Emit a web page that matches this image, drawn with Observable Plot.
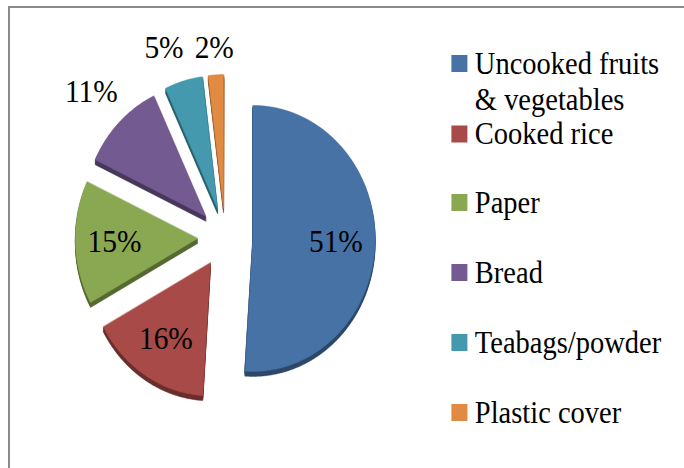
<!DOCTYPE html>
<html><head><meta charset="utf-8">
<script src="https://cdn.jsdelivr.net/npm/d3@7"></script>
<script src="https://cdn.jsdelivr.net/npm/@observablehq/plot@0.6"></script>
<style>
html,body{margin:0;padding:0;background:#fff;overflow:hidden;width:684px;height:468px;font-family:"Liberation Serif",serif;}
#frame{position:absolute;left:8px;top:6px;width:800px;height:600px;border-left:2px solid #8a8a8a;border-top:2px solid #8a8a8a;}
#chart{position:absolute;left:0;top:0;width:684px;height:468px;}
#preload{position:absolute;left:-2000px;top:-2000px;font-family:"Liberation Serif";font-size:32px;}
</style></head><body>
<div id="preload">Uncooked 51%</div>
<div id="frame"></div>
<div id="chart"></div>
<script>
// ---- data ----
const categories = ["Uncooked fruits & vegetables", "Cooked rice", "Paper", "Bread", "Teabags/powder", "Plastic cover"];
const values = [51, 16, 15, 11, 5, 2];
const legendLines = [["Uncooked fruits", "& vegetables"], ["Cooked rice"], ["Paper"], ["Bread"], ["Teabags/powder"], ["Plastic cover"]];
const colors = ["#4772a6", "#a84a47", "#8aa851", "#735a90", "#4499af", "#e08a42"];

// ---- layout (virtual units; the svg is squeezed to 92% horizontally) ----
const W = 744, H = 468, squeeze = 0.92;
const cx = 244.5, cy = 237, R = 133, explode = 30, depth = 5;
const fontSize = 32, legendFont = 31;
const serif = "Liberation Serif";

const arcs = d3.pie().sort(null).value(d => d)(values);
const slices = arcs.map((a, i) => {
  const m = (a.startAngle + a.endAngle) / 2;
  const ux = Math.sin(m), uy = -Math.cos(m);
  const ax = cx + explode * ux, ay = cy + explode * uy;
  const n = Math.max(2, Math.ceil((a.endAngle - a.startAngle) / 0.01));
  const pts = [{x: ax, y: ay}];
  for (let k = 0; k <= n; k++) {
    const t = a.startAngle + (a.endAngle - a.startAngle) * k / n;
    pts.push({x: ax + R * Math.sin(t), y: ay - R * Math.cos(t)});
  }
  return {i, name: categories[i], value: values[i], ux, uy, ax, ay, pts};
});

// data labels
const labels = slices.map(s => {
  const text = s.value + "%";
  const w = (text.length === 3 ? 1.833 : 1.333) * fontSize, h = 26;
  if (s.value >= 15) {
    return {text, x: s.ax + 0.68 * R * s.ux, y: s.ay + 0.68 * R * s.uy, w, h, inside: true};
  }
  const dist = R + 13 + Math.abs(s.ux) * w / 2 + Math.abs(s.uy) * h / 2;
  return {text, x: s.ax + dist * s.ux, y: s.ay + dist * s.uy, w, h, inside: false};
});
const outs = labels.filter(l => !l.inside).sort((a, b) => a.x - b.x);
for (let k = outs.length - 2; k >= 0; k--) {
  const a = outs[k], b = outs[k + 1], gap = 12;
  if (Math.abs(a.y - b.y) < a.h && a.x + a.w / 2 + gap > b.x - b.w / 2) {
    a.x = b.x - b.w / 2 - gap - a.w / 2;
    a.y = b.y;
  }
}

// legend layout
const legX = 491, legSw = 17.4, legTextX = 516, legTop = 73, legSecond = 143.5, legStep = 70, legLineGap = 36;
const legBase = categories.map((c, i) => i === 0 ? legTop : (i === 1 ? legSecond : 212 + legStep * (i - 2)));
const legSwatches = categories.map((c, i) => ({name: c, x1: legX, x2: legX + legSw, y1: legBase[i] - 18, y2: legBase[i] - 1}));
const legTexts = legendLines.flatMap((lines, i) => lines.map((line, j) => ({line, x: legTextX, y: legBase[i] + j * legLineGap})));

const marks = [];
slices.forEach(s => {
  const dark = d3.color(colors[s.i]).darker(1.3).formatHex();
  for (let k = depth; k >= 1; k--) {
    marks.push(Plot.line(s.pts, {x: "x", y: "y", fill: dark, stroke: dark, strokeWidth: 0.5, curve: "linear-closed", dy: k}));
  }
});
slices.forEach(s => {
  marks.push(Plot.line(s.pts, {x: "x", y: "y", fill: colors[s.i], stroke: colors[s.i], strokeWidth: 0.5, curve: "linear-closed"}));
});
marks.push(Plot.text(labels, {x: "x", y: "y", text: "text", fontFamily: serif, fontSize, fill: "#000"}));
marks.push(Plot.rect(legSwatches, {x1: "x1", x2: "x2", y1: "y1", y2: "y2", fill: "name"}));
marks.push(Plot.text(legTexts, {x: "x", y: "y", text: "line", textAnchor: "start", lineAnchor: "bottom", fontFamily: serif, fontSize: legendFont, fill: "#000"}));

const svg = Plot.plot({
  width: W, height: H, margin: 0,
  x: {domain: [0, W], range: [0, W], axis: null},
  y: {domain: [0, H], range: [0, H], axis: null},
  color: {domain: categories, range: colors},
  style: {background: "transparent", overflow: "visible", maxWidth: "none", width: Math.round(W * squeeze) + "px", height: H + "px", fontFamily: serif},
  marks
});
svg.setAttribute("width", Math.round(W * squeeze));
svg.setAttribute("height", H);
svg.setAttribute("preserveAspectRatio", "none");
document.getElementById("chart").appendChild(svg);
</script>
</body></html>
